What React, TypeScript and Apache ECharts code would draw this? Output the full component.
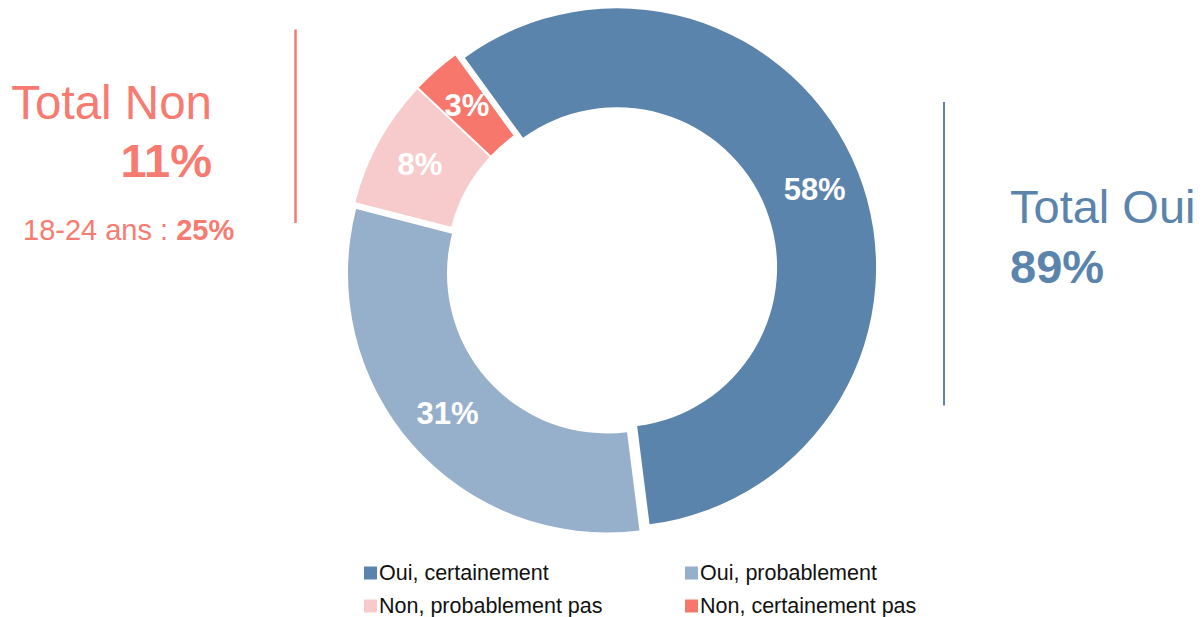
import React, { useEffect, useRef } from "react";
import * as echarts from "echarts";

const categories = ["Oui, certainement", "Oui, probablement", "Non, probablement pas", "Non, certainement pas"];
const values = [58, 31, 8, 3];
const colors = ["#5B84AD", "#96AFCA", "#F7CBCB", "#F8776C"];
const totalOuiLabel = "Total Oui";
const totalOuiValue = "89%";
const totalNonLabel = "Total Non";
const totalNonValue = "11%";
const subLabel = "18-24 ans : ";
const subValue = "25%";

const FONT = "'Liberation Sans', Arial, sans-serif";
const RED = "#F77B70";
const BLUE = "#5B84AD";

export default function App() {
  const ref = useRef<HTMLDivElement>(null);
  useEffect(() => {
    if (!ref.current) return;
    const chart = echarts.init(ref.current, null, { renderer: "svg" });
    const legendCommon = {
      orient: "vertical" as const,
      icon: "rect",
      itemWidth: 13,
      itemHeight: 13,
      itemGap: 11,
      selectedMode: false,
      textStyle: { fontFamily: FONT, fontSize: 21.5, color: "#111", lineHeight: 21, padding: [0, 0, 0, -3] },
      padding: 0,
    };
    chart.setOption({
      animation: false,
      legend: [
        { ...legendCommon, left: 364, top: 562, data: [categories[0], categories[2]] },
        { ...legendCommon, left: 685, top: 562, data: [categories[1], categories[3]] },
      ],
      series: [
        {
          type: "pie",
          center: [611.5, 269.5],
          radius: [160, 259],
          startAngle: 126,
          clockwise: true,
          selectedMode: "multiple",
          selectedOffset: 6,
          silent: true,
          label: {
            show: true,
            position: "inside",
            formatter: "{c}%",
            color: "#fff",
            fontFamily: FONT,
            fontWeight: "bold",
            fontSize: 31,
          },
          labelLine: { show: false },
          emphasis: { disabled: true },
          data: categories.map((name, i) => ({
            name,
            value: values[i],
            selected: true,
            itemStyle: { color: colors[i] },
          })),
        },
      ],
      graphic: [
        {
          type: "line",
          shape: { x1: 295.5, y1: 29.5, x2: 295.5, y2: 223 },
          style: { stroke: RED, lineWidth: 2.5 },
        },
        {
          type: "line",
          shape: { x1: 944, y1: 102, x2: 944, y2: 405.5 },
          style: { stroke: BLUE, lineWidth: 2 },
        },
        {
          type: "text",
          x: 212,
          y: 102.5,
          style: { text: totalNonLabel, fill: RED, font: `47.5px ${FONT}`, align: "right", verticalAlign: "middle" },
        },
        {
          type: "text",
          x: 212,
          y: 160.5,
          style: { text: totalNonValue, fill: RED, font: `bold 47px ${FONT}`, align: "right", verticalAlign: "middle" },
        },
        {
          type: "text",
          x: 23,
          y: 229.5,
          style: {
            text: `{a|${subLabel}}{b|${subValue}}`,
            align: "left",
            verticalAlign: "middle",
            rich: {
              a: { fill: RED, fontFamily: FONT, fontSize: 29 },
              b: { fill: RED, fontFamily: FONT, fontSize: 29, fontWeight: "bold" },
            },
          },
        },
        {
          type: "text",
          x: 1010,
          y: 206.5,
          style: { text: totalOuiLabel, fill: BLUE, font: `47px ${FONT}`, align: "left", verticalAlign: "middle" },
        },
        {
          type: "text",
          x: 1010,
          y: 266.5,
          style: { text: totalOuiValue, fill: BLUE, font: `bold 47px ${FONT}`, align: "left", verticalAlign: "middle" },
        },
      ],
    });
    return () => chart.dispose();
  }, []);
  return <div ref={ref} style={{ position: "absolute", left: 0, top: 0, width: 1203, height: 617 }} />;
}
